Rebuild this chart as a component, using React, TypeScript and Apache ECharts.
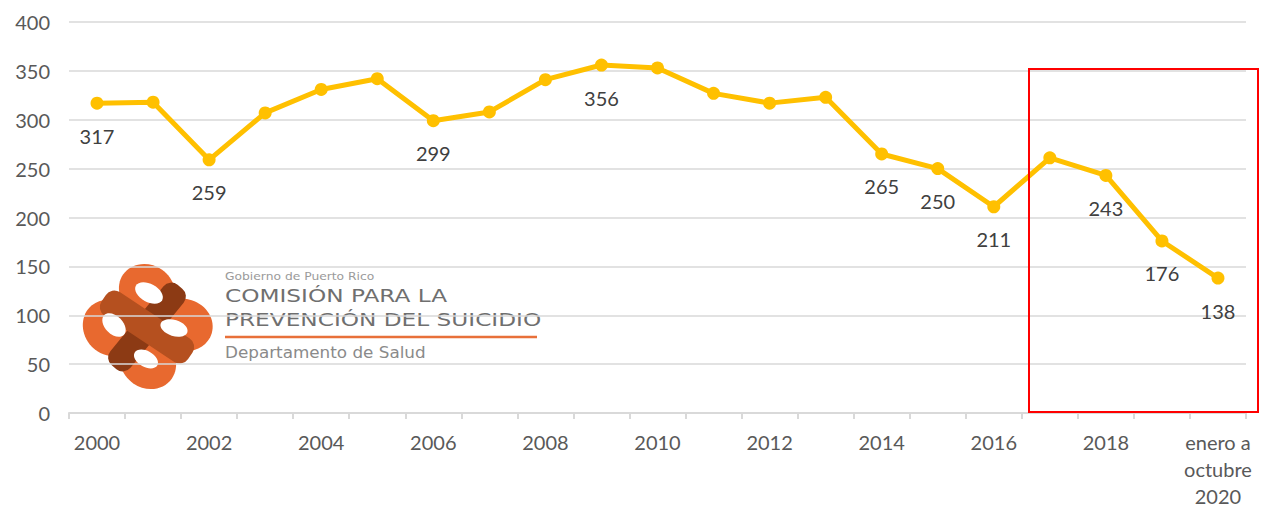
import React, { useEffect, useRef } from "react";
import * as echarts from "echarts";

const categories = [
  "2000", "2001", "2002", "2003", "2004", "2005", "2006", "2007", "2008", "2009",
  "2010", "2011", "2012", "2013", "2014", "2015", "2016", "2017", "2018", "2019",
  "enero a\noctubre\n2020",
];
const suicides = [
  317, 318, 259, 307, 331, 342, 299, 308, 341, 356,
  353, 327, 317, 323, 265, 250, 211, 261, 243, 176, 138,
];
const labeledIndexes = [0, 2, 6, 9, 14, 15, 16, 18, 19, 20];
const yTicks = { min: 0, max: 400, interval: 50 };
const logoLines = [
  "Gobierno de Puerto Rico",
  "COMISIÓN PARA LA",
  "PREVENCIÓN DEL SUICIDIO",
  "Departamento de Salud",
];

export default function App() {
  const ref = useRef<HTMLDivElement>(null);
  useEffect(() => {
    document.body.style.margin = "0";
    if (!ref.current) return;
    const chart = echarts.init(ref.current, undefined, { renderer: "svg" });
    const font = "Lato, 'Open Sans', sans-serif";
    const orange = "#E8692F";
    const band1 = "#B5501F";
    const band2 = "#8C3A14";
    const lobe = (x: number, y: number, rot: number) => ({
      type: "ellipse",
      x,
      y,
      rotation: rot,
      shape: { cx: 0, cy: 0, rx: 29, ry: 26 },
      style: { fill: orange },
    });
    const hole = (x: number, y: number, rx: number, ry: number, rot: number) => ({
      type: "ellipse",
      x,
      y,
      rotation: rot,
      shape: { cx: 0, cy: 0, rx, ry },
      style: { fill: "#ffffff" },
    });
    chart.setOption({
      animation: false,
      grid: { left: 69, right: 22, top: 22, bottom: 97, containLabel: false },
      xAxis: {
        type: "category",
        data: categories,
        boundaryGap: true,
        axisLine: { lineStyle: { color: "#D9D9D9", width: 2 } },
        axisTick: { show: true, interval: 0, length: 6, lineStyle: { color: "#D9D9D9", width: 2 } },
        axisLabel: {
          interval: 1,
          color: "#595959",
          fontFamily: font,
          fontSize: 20,
          lineHeight: 27,
          margin: 15,
          align: "center",
        },
      },
      yAxis: {
        type: "value",
        min: yTicks.min,
        max: yTicks.max,
        interval: yTicks.interval,
        axisLine: { show: false },
        axisTick: { show: false },
        splitLine: { lineStyle: { color: "#D9D9D9", width: 1.5 } },
        axisLabel: { color: "#595959", fontFamily: font, fontSize: 20, margin: 19 },
      },
      series: [
        {
          type: "line",
          data: suicides.map((v, i) => ({
            value: v,
            label: { show: labeledIndexes.includes(i) },
          })),
          symbol: "circle",
          symbolSize: 13,
          lineStyle: { color: "#FFC000", width: 5 },
          itemStyle: { color: "#FFC000" },
          label: {
            position: "bottom",
            distance: 16,
            color: "#404040",
            fontFamily: font,
            fontSize: 20,
          },
          z: 3,
        },
      ],
      graphic: [
        {
          type: "rect",
          shape: { x: 1029, y: 69, width: 229, height: 343 },
          style: { fill: "none", stroke: "#FF0000", lineWidth: 2 },
          z: 10,
        },
        {
          type: "group",
          z: 5,
          children: [
            lobe(147, 291, -0.6),
            lobe(184, 325, -0.3),
            lobe(148, 362, -0.6),
            lobe(110, 328, -0.9),
            {
              type: "rect",
              x: 147,
              y: 327,
              rotation: Math.PI / 4 + 0.1,
              shape: { x: -52, y: -13, width: 104, height: 26, r: 10 },
              style: { fill: band2 },
            },
            {
              type: "rect",
              x: 147,
              y: 327,
              rotation: -Math.PI / 4 + 0.2,
              shape: { x: -52, y: -14, width: 104, height: 28, r: 10 },
              style: { fill: band1 },
            },
            hole(149, 293, 15, 9, -0.5),
            hole(174, 328, 14, 8, -0.3),
            hole(146, 359, 13, 8, -0.5),
            hole(114, 325, 14, 9, -0.8),
          ],
        },
        {
          type: "group",
          z: 5,
          children: [
            {
              type: "text",
              x: 225,
              y: 276,
              scaleX: 1.12,
              style: {
                text: logoLines[0],
                fill: "#9a9a9a",
                font: "11px 'DejaVu Sans', sans-serif",
                textVerticalAlign: "middle",
              },
            },
            {
              type: "text",
              x: 225,
              y: 296,
              scaleX: 1.29,
              style: {
                text: logoLines[1],
                fill: "#6f6f6f",
                font: "18px 'DejaVu Sans', sans-serif",
                textVerticalAlign: "middle",
              },
            },
            {
              type: "text",
              x: 225,
              y: 320,
              scaleX: 1.29,
              style: {
                text: logoLines[2],
                fill: "#6f6f6f",
                font: "18px 'DejaVu Sans', sans-serif",
                textVerticalAlign: "middle",
              },
            },
            {
              type: "line",
              shape: { x1: 225, y1: 337, x2: 537, y2: 337 },
              style: { stroke: "#E8703A", lineWidth: 2.5 },
            },
            {
              type: "text",
              x: 225,
              y: 353,
              scaleX: 1.12,
              style: {
                text: logoLines[3],
                fill: "#8a8a8a",
                font: "15px 'DejaVu Sans', sans-serif",
                textVerticalAlign: "middle",
              },
            },
          ],
        },
      ],
    });
    return () => chart.dispose();
  }, []);
  return <div ref={ref} style={{ width: 1268, height: 510 }} />;
}
